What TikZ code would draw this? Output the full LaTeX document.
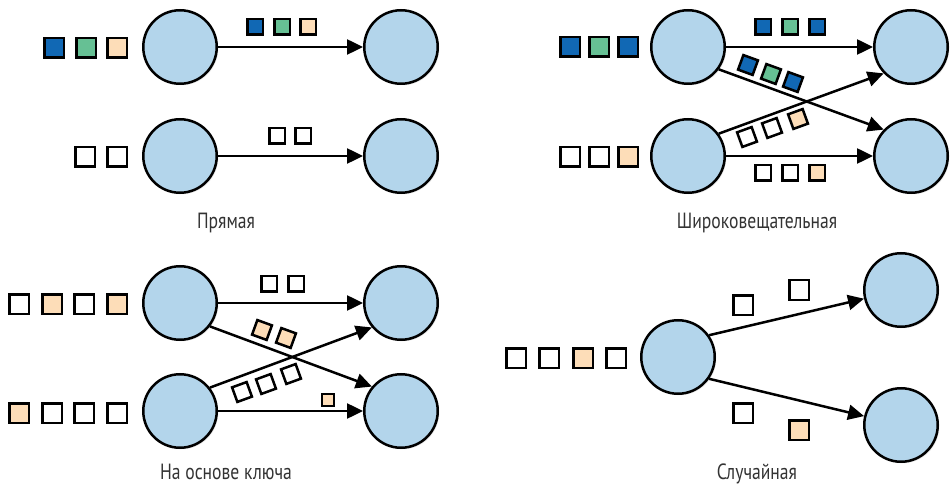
\documentclass[tikz,border=0pt]{standalone}
\usepackage{fontspec}
\setmainfont[FakeStretch=0.8]{PT Sans}
\usepackage{tikz}
\usetikzlibrary{arrows.meta,shadows,positioning}
\definecolor{procblue}{HTML}{B3D5EB}
\definecolor{msgblue}{HTML}{1168B4}
\definecolor{msggreen}{HTML}{66C094}
\definecolor{msgpeach}{HTML}{FDDDB8}
\definecolor{captiongray}{HTML}{333333}
\tikzset{proc/.style={circle,draw,line width=2.5pt,fill=procblue,minimum size=73.5pt,inner sep=0,
    drop shadow={opacity=0.2,shadow xshift=1.5pt,shadow yshift=-1.5pt}},
  msg/.style={draw,line width=2.5pt,fill=white,minimum size=19.5pt,inner sep=0},
  smallmsg/.style={msg,minimum size=15.5pt},
  tinymsg/.style={msg,minimum size=12pt},
  flow/.style={line width=2.5pt,-{Triangle[length=16pt,width=15pt]}},
  caption/.style={text=captiongray,anchor=base,inner sep=1pt,font=\fontsize{22}{24}\selectfont}}

\begin{document}
\begin{tikzpicture}[x=1pt,y=-1pt]
	\useasboundingbox (0,0) rectangle (950,486);

	% direct
	\node[proc] (d1) at (180,47) {};
	\node[proc] (d2) at (401,47) {};
	\node[proc] (d3) at (180,156) {};
	\node[proc] (d4) at (401,156) {};
	\draw[flow] (d1) -- (d2);
	\draw[flow] (d3) -- (d4);

	\node[msg, fill=msgblue] (dq1) at (54,48) {};
	\node[msg, fill=msggreen] (dq2) at (86,48) {};
	\node[msg, fill=msgpeach] (dq3) at (117,48) {};
	\node[smallmsg, fill=msgblue] (da1) at (255,27) {};
	\node[smallmsg, fill=msggreen] (da2) at (282,27) {};
	\node[smallmsg, fill=msgpeach] (da3) at (308,27) {};

	\node[msg] (dq4) at (85,157) {};
	\node[msg] (dq5) at (117,157) {};
	\node[smallmsg] (da4) at (277,136) {};
	\node[smallmsg] (da5) at (303,136) {};

	\node[caption] (cap1) at (226,229) {Прямая};

	% broadcast
	\node[proc] (b1) at (688,47) {};
	\node[proc] (b2) at (911,47) {};
	\node[proc] (b3) at (688,156) {};
	\node[proc] (b4) at (911,156) {};
	\draw[flow] (b1) -- (b2);
	\draw[flow] (b3) -- (b4);
	\draw[flow] (b1.-36) -- (b4.136);
	\draw[flow] (b3.36) -- (b2.-136);

	\node[msg, fill=msgblue] (bq1) at (570,47) {};
	\node[msg, fill=msggreen] (bq2) at (599,47) {};
	\node[msg, fill=msgblue] (bq3) at (628,47) {};
	\node[msg] (bq4) at (570,157) {};
	\node[msg] (bq5) at (599,157) {};
	\node[msg, fill=msgpeach] (bq6) at (628,157) {};

	\node[smallmsg, fill=msgblue] (ba1) at (763,27) {};
	\node[smallmsg, fill=msggreen] (ba2) at (790,27) {};
	\node[smallmsg, fill=msgblue] (ba3) at (817,27) {};
	\node[smallmsg, fill=msgblue, rotate=-20] (ba4) at (748,65) {};
	\node[smallmsg, fill=msggreen, rotate=-20] (ba5) at (771,74) {};
	\node[smallmsg, fill=msgblue, rotate=-20] (ba6) at (793,82) {};
	\node[smallmsg, rotate=20] (ba7) at (747,137) {};
	\node[smallmsg, rotate=20] (ba8) at (772,128) {};
	\node[smallmsg, fill=msgpeach, rotate=20] (ba9) at (798,119) {};
	\node[smallmsg] (ba10) at (763,173) {};
	\node[smallmsg] (ba11) at (790,173) {};
	\node[smallmsg, fill=msgpeach] (ba12) at (817,173) {};

	\node[caption] (cap2) at (757,229) {Широковещательная};

	% key based
	\node[proc] (k1) at (180,303) {};
	\node[proc] (k2) at (401,303) {};
	\node[proc] (k3) at (180,411) {};
	\node[proc] (k4) at (401,411) {};
	\draw[flow] (k1) -- (k2);
	\draw[flow] (k3) -- (k4);
	\draw[flow] (k1.-38) -- (k4.140);
	\draw[flow] (k3.38) -- (k2.-140);

	\node[msg] (kq1) at (19,304) {};
	\node[msg, fill=msgpeach] (kq2) at (52,304) {};
	\node[msg] (kq3) at (84,304) {};
	\node[msg, fill=msgpeach] (kq4) at (117,304) {};
	\node[msg, fill=msgpeach] (kq5) at (19,413) {};
	\node[msg] (kq6) at (52,413) {};
	\node[msg] (kq7) at (84,413) {};
	\node[msg] (kq8) at (117,413) {};

	\node[smallmsg] (ka1) at (269,284) {};
	\node[smallmsg] (ka2) at (296,284) {};
	\node[smallmsg, fill=msgpeach, rotate=-20] (ka3) at (262,330) {};
	\node[smallmsg, fill=msgpeach, rotate=-20] (ka4) at (286,338) {};
	\node[smallmsg, rotate=20] (ka5) at (242,392) {};
	\node[smallmsg, rotate=20] (ka6) at (266,384) {};
	\node[smallmsg, rotate=20] (ka7) at (291,374) {};
	\node[tinymsg, fill=msgpeach] (ka8) at (328,400) {};

	\node[caption] (cap3) at (226,479) {На основе ключа};

	% random
	\node[proc] (r0) at (678,357) {};
	\node[proc] (r1) at (901,290) {};
	\node[proc] (r2) at (901,425) {};
	\draw[flow] (r0.35) -- (r1);
	\draw[flow] (r0.-35) -- (r2);

	\node[msg] (rq1) at (516,358) {};
	\node[msg] (rq2) at (549,358) {};
	\node[msg, fill=msgpeach] (rq3) at (583,358) {};
	\node[msg] (rq4) at (616,358) {};
	\node[msg] (ra1) at (743,305) {};
	\node[msg] (ra2) at (799,290) {};
	\node[msg] (ra3) at (743,413) {};
	\node[msg, fill=msgpeach] (ra4) at (799,430) {};

	\node[caption] (cap4) at (757,479) {Случайная};
\end{tikzpicture}
\end{document}
